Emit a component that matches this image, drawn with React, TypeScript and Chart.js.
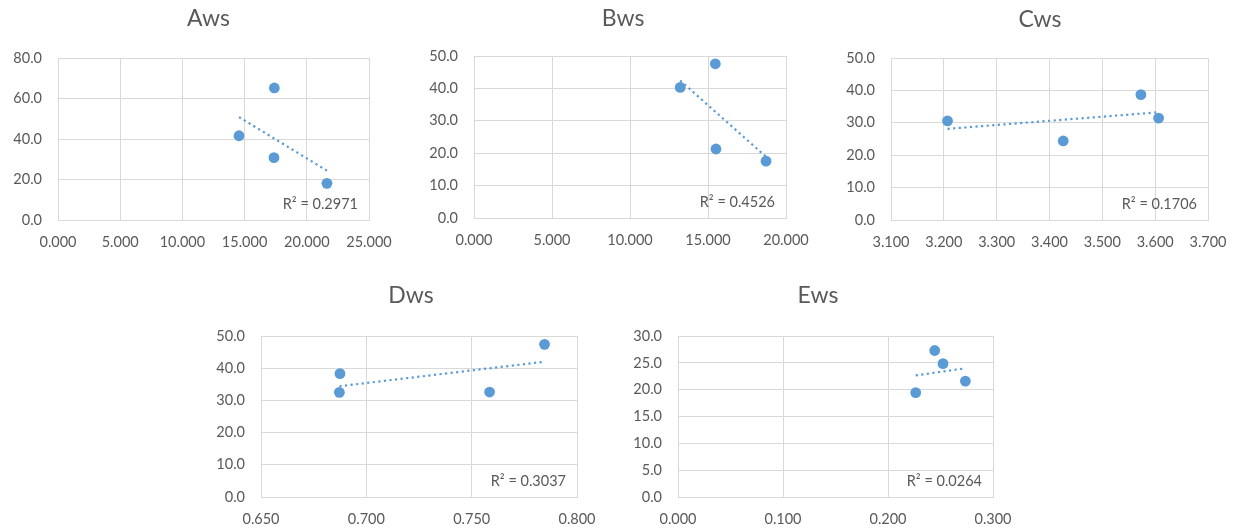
import React, { useEffect, useRef } from "react";
import { Chart, registerables } from "chart.js";
Chart.register(...registerables);

// ---- data ----
const awsX = [14.55, 17.39, 17.36, 21.62];
const awsY = [41.6, 65.2, 30.8, 18.1];
const bwsX = [13.22, 15.47, 15.51, 18.72];
const bwsY = [40.3, 47.6, 21.3, 17.55];
const cwsX = [3.207, 3.426, 3.573, 3.6065];
const cwsY = [30.6, 24.4, 38.7, 31.45];
const dwsX = [0.6875, 0.6872, 0.7585, 0.7846];
const dwsY = [38.3, 32.5, 32.6, 47.4];
const ewsX = [0.2264, 0.2445, 0.2524, 0.2737];
const ewsY = [19.45, 27.3, 24.85, 21.6];

const titles = ["Aws", "Bws", "Cws", "Dws", "Ews"];
const r2Labels = ["R² = 0.2971", "R² = 0.4526", "R² = 0.1706", "R² = 0.3037", "R² = 0.0264"];

// axis ranges [min, max, step]
const xRanges = [
  [0, 25, 5],
  [0, 20, 5],
  [3.1, 3.7, 0.1],
  [0.65, 0.8, 0.05],
  [0, 0.3, 0.1],
];
const yRanges = [
  [0, 80, 20],
  [0, 50, 10],
  [0, 50, 10],
  [0, 50, 10],
  [0, 30, 5],
];

// ---- layout (page coordinates) ----
const plots = [
  [58, 58, 369, 220],
  [474, 56, 786, 218],
  [891, 58, 1208, 220],
  [261, 336, 577, 497],
  [678, 336, 993, 497],
];
const rowTops = [0, 0, 0, 270, 270];
const titlePos = [
  [208.5, 19],
  [623, 19],
  [1040, 19.5],
  [411, 295.5],
  [818, 295.5],
];

const GREY = "#595959";
const GRID = "#d9d9d9";
const BLUE = "#5b9bd5";
const FONT = "Lato";
const Y_AXIS_W = 50;
const RIGHT_PAD = 45;

function regression(xs: number[], ys: number[]) {
  const n = xs.length;
  const mx = xs.reduce((a, b) => a + b, 0) / n;
  const my = ys.reduce((a, b) => a + b, 0) / n;
  let sxy = 0, sxx = 0;
  for (let i = 0; i < n; i++) {
    sxy += (xs[i] - mx) * (ys[i] - my);
    sxx += (xs[i] - mx) * (xs[i] - mx);
  }
  const slope = sxy / sxx;
  const b = my - slope * mx;
  const x0 = Math.min(...xs);
  const x1 = Math.max(...xs);
  return [
    { x: x0, y: slope * x0 + b },
    { x: x1, y: slope * x1 + b },
  ];
}

const annotPlugin = {
  id: "annot",
  afterDraw(chart: any, _args: any, opts: any) {
    const ctx = chart.ctx;
    const ca = chart.chartArea;
    ctx.save();
    ctx.fillStyle = GREY;
    ctx.font = `23px ${FONT}`;
    ctx.textAlign = "center";
    ctx.textBaseline = "middle";
    ctx.fillText(opts.title, opts.tx, opts.ty);
    ctx.font = `14.5px ${FONT}`;
    ctx.textAlign = "right";
    ctx.fillText(opts.r2, ca.right - 11, ca.bottom - 16);
    ctx.restore();
  },
};

const seriesX = [awsX, bwsX, cwsX, dwsX, ewsX];
const seriesY = [awsY, bwsY, cwsY, dwsY, ewsY];

function SubChart({ idx }: { idx: number }) {
  const ref = useRef<HTMLCanvasElement | null>(null);
  const [L, T, R, B] = plots[idx];
  const top = rowTops[idx];
  const left = L - Y_AXIS_W;
  const width = R - left + RIGHT_PAD;
  const height = (idx < 3 ? 262 : 531) - top;
  const xAxisH = top + height - B;

  useEffect(() => {
    if (!ref.current) return;
    const xs = seriesX[idx];
    const ys = seriesY[idx];
    const pts = xs.map((x, i) => ({ x, y: ys[i] }));
    const trend = regression(xs, ys);
    const [xmin, xmax, xstep] = xRanges[idx];
    const [ymin, ymax, ystep] = yRanges[idx];
    const chart = new Chart(ref.current, {
      type: "scatter",
      data: {
        datasets: [
          {
            type: "line",
            data: trend,
            borderColor: BLUE,
            borderWidth: 2.2,
            borderDash: [2.2, 3.4],
            pointRadius: 0,
            fill: false,
            order: 0,
          } as any,
          {
            type: "scatter",
            data: pts,
            backgroundColor: BLUE,
            borderColor: BLUE,
            borderWidth: 0,
            pointRadius: 5.4,
            order: 1,
          },
        ],
      },
      options: {
        animation: false,
        responsive: false,
        layout: {
          padding: { left: 0, top: T - top, right: left + width - R, bottom: 0 },
        },
        plugins: {
          legend: { display: false },
          tooltip: { enabled: false },
          title: { display: false },
          annot: {
            title: titles[idx],
            r2: r2Labels[idx],
            tx: titlePos[idx][0] - left,
            ty: titlePos[idx][1] - top,
          },
        } as any,
        scales: {
          x: {
            type: "linear",
            min: xmin,
            max: xmax,
            grid: { color: GRID, lineWidth: 1, drawTicks: false },
            border: { color: GRID, width: 1 },
            ticks: {
              stepSize: xstep,
              color: GREY,
              font: { family: FONT, size: 14.5 },
              padding: 14,
              maxRotation: 0,
              autoSkip: false,
              callback: (v: any) => Number(v).toFixed(3),
            },
            afterFit: (s: any) => {
              s.height = xAxisH;
              s.paddingLeft = 0;
              s.paddingRight = 0;
            },
          },
          y: {
            type: "linear",
            min: ymin,
            max: ymax,
            grid: { color: GRID, lineWidth: 1, drawTicks: false },
            border: { color: GRID, width: 1 },
            ticks: {
              stepSize: ystep,
              color: GREY,
              font: { family: FONT, size: 14.5 },
              padding: 16,
              autoSkip: false,
              callback: (v: any) => Number(v).toFixed(1),
            },
            afterFit: (s: any) => {
              s.width = Y_AXIS_W;
              s.paddingTop = 0;
              s.paddingBottom = 0;
            },
          },
        },
      } as any,
      plugins: [annotPlugin as any],
    });
    return () => chart.destroy();
  }, [idx]);

  return (
    <div style={{ position: "absolute", left, top, width, height }}>
      <canvas ref={ref} width={width} height={height} style={{ width, height, display: "block" }} />
    </div>
  );
}

export default function App() {
  return (
    <div style={{ position: "absolute", left: 0, top: 0, width: 1236, height: 531, background: "#fff", overflow: "hidden" }}>
      {[0, 1, 2, 3, 4].map((i) => (
        <SubChart key={i} idx={i} />
      ))}
    </div>
  );
}
